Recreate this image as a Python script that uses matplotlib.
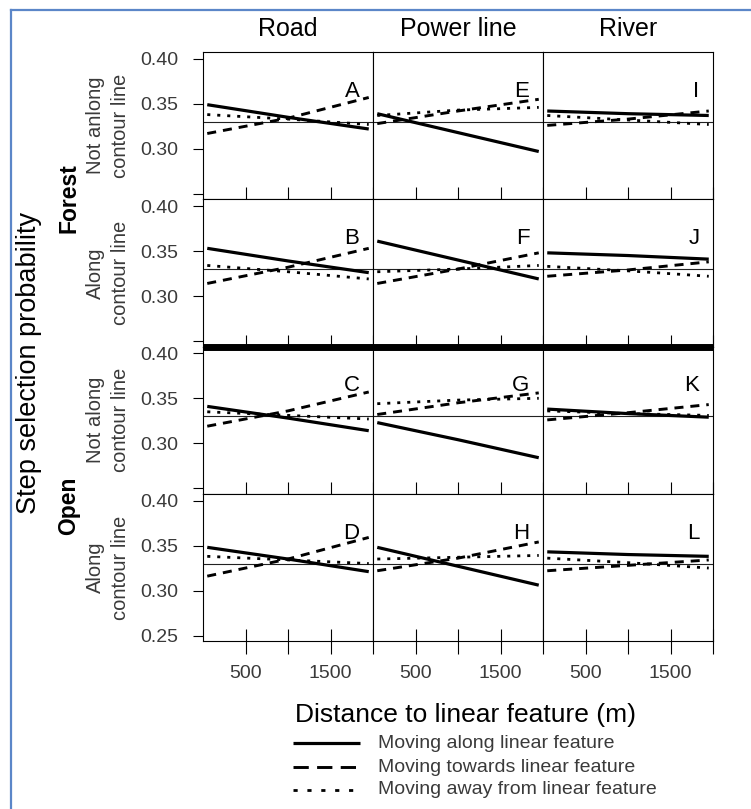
import matplotlib
matplotlib.use("Agg")
import matplotlib.pyplot as plt
from matplotlib.lines import Line2D

plt.rcParams['font.family'] = ['Liberation Sans', 'DejaVu Sans']
plt.rcParams['lines.scale_dashes'] = False

# distance to linear feature (m) at which the fitted lines were read
distance = [50, 1000, 1950]
features = ["Road", "Power line", "River"]
row_labels = ["Not anlong\ncontour line", "Along\ncontour line",
              "Not along\ncontour line", "Along\ncontour line"]
letters = [["A", "E", "I"], ["B", "F", "J"], ["C", "G", "K"], ["D", "H", "L"]]
x_ticks = [500, 1000, 1500, 2000]
x_ticklabels = ["500", "", "1500", ""]
y_ticks = [0.25, 0.30, 0.35, 0.40]
ref_prob = 0.33

# step selection probability, [row][column] -> values at `distance`
along_feature = [
    [[0.349, 0.335, 0.322], [0.339, 0.318, 0.297], [0.342, 0.339, 0.337]],
    [[0.353, 0.339, 0.326], [0.361, 0.340, 0.319], [0.348, 0.345, 0.341]],
    [[0.341, 0.328, 0.314], [0.323, 0.304, 0.284], [0.338, 0.333, 0.329]],
    [[0.348, 0.335, 0.321], [0.348, 0.327, 0.306], [0.343, 0.340, 0.338]],
]
towards_feature = [
    [[0.317, 0.334, 0.357], [0.328, 0.342, 0.355], [0.326, 0.333, 0.342]],
    [[0.314, 0.332, 0.353], [0.314, 0.330, 0.348], [0.322, 0.329, 0.338]],
    [[0.319, 0.336, 0.357], [0.332, 0.345, 0.356], [0.326, 0.334, 0.343]],
    [[0.316, 0.335, 0.359], [0.322, 0.336, 0.354], [0.322, 0.328, 0.334]],
]
away_feature = [
    [[0.338, 0.333, 0.327], [0.337, 0.343, 0.346], [0.337, 0.332, 0.327]],
    [[0.334, 0.327, 0.319], [0.327, 0.330, 0.334], [0.333, 0.328, 0.322]],
    [[0.335, 0.331, 0.327], [0.344, 0.348, 0.350], [0.336, 0.333, 0.331]],
    [[0.338, 0.334, 0.330], [0.335, 0.337, 0.339], [0.336, 0.331, 0.325]],
]
legend_labels = ["Moving along linear feature",
                 "Moving towards linear feature",
                 "Moving away from linear feature"]

W, H = 751, 809
fig = plt.figure(figsize=(W / 100, H / 100), dpi=100)


def fx(px):
    return px / W


def fy(py):
    return 1 - py / H


left, colw = 203, 170
top, rowh = 52, 147.25
grey = "#3a3a3a"

solid = dict(color="black", lw=2.3, solid_capstyle="butt")
dashed = dict(color="black", lw=2.1, dashes=(6.5, 5), dash_capstyle="butt")
dotted = dict(color="black", lw=2.0, dashes=(2.2, 5), dash_capstyle="butt")

for r in range(4):
    for c in range(3):
        ax = fig.add_axes([fx(left + c * colw), fy(top + (r + 1) * rowh),
                           colw / W, rowh / H])
        ax.axhline(ref_prob, color="#222222", lw=0.8)
        ax.plot(distance, away_feature[r][c], **dotted)
        ax.plot(distance, towards_feature[r][c], **dashed)
        ax.plot(distance, along_feature[r][c], **solid)
        ax.set_xlim(0, 2000)
        ax.set_ylim(0.244, 0.4075)
        for s in ax.spines.values():
            s.set_linewidth(0.8)
        ax.set_xticks(x_ticks)
        if r == 3:
            ax.set_xticklabels(x_ticklabels)
            ax.tick_params(axis="x", direction="inout", length=18, width=0.8,
                           pad=8, labelsize=14, labelcolor=grey)
        else:
            ax.set_xticklabels([])
            ax.tick_params(axis="x", direction="in", length=8.5, width=0.8)
        ax.set_yticks(y_ticks)
        if c == 0:
            labs = ["%.2f" % v for v in y_ticks]
            if r < 3:
                labs[0] = ""
            ax.set_yticklabels(labs)
            ax.tick_params(axis="y", direction="out", length=7, width=0.8,
                           pad=10.5, labelsize=14, labelcolor=grey)
        else:
            ax.tick_params(axis="y", length=0, labelleft=False)
        ax.text(0.92, 0.696, letters[r][c], transform=ax.transAxes,
                ha="right", va="baseline", fontsize=16)

    fig.text(fx(108), fy(top + (r + 0.5) * rowh), row_labels[r], rotation=90,
             ha="center", va="center", multialignment="center",
             fontsize=14.5, color=grey, linespacing=1.35)

for c, name in enumerate(features):
    fig.text(fx(left + (c + 0.5) * colw), fy(36), name, ha="center",
             va="baseline", fontsize=18)

# heavy line between forest and open
fig.add_artist(Line2D([fx(left), fx(left + 3 * colw)], [fy(top + 2 * rowh)] * 2,
                      lw=5, color="black", solid_capstyle="butt"))

fig.text(fx(69), fy(198), "Forest", rotation=90, ha="center", va="center",
         fontsize=16.5, fontweight="bold")
fig.text(fx(69), fy(506), "Open", rotation=90, ha="center", va="center",
         fontsize=16.5, fontweight="bold")
fig.text(fx(29), fy(363), "Step selection probability", rotation=90,
         ha="center", va="center", fontsize=19.5)
fig.text(fx(465), fy(715), "Distance to linear feature (m)", ha="center",
         va="center", fontsize=19)

# legend drawn by hand
key_styles = [dict(solid), dict(dashed, dashes=(11, 6)), dict(dotted, dashes=(3, 7))]
for i, (lab, st) in enumerate(zip(legend_labels, key_styles)):
    yy = [743, 767, 790][i]
    fig.add_artist(Line2D([fx(293), fx(360)], [fy(yy)] * 2, **st))
    fig.text(fx(378), fy(yy), lab, va="center", fontsize=14, color=grey)

# blue frame of the original figure box
frame = "#5b86c8"
fig.add_artist(Line2D([fx(11), fx(11)], [0, fy(10)], lw=1.6, color=frame))
fig.add_artist(Line2D([fx(11), 1], [fy(10), fy(10)], lw=1.6, color=frame))

fig.savefig("out.png", dpi=100)
